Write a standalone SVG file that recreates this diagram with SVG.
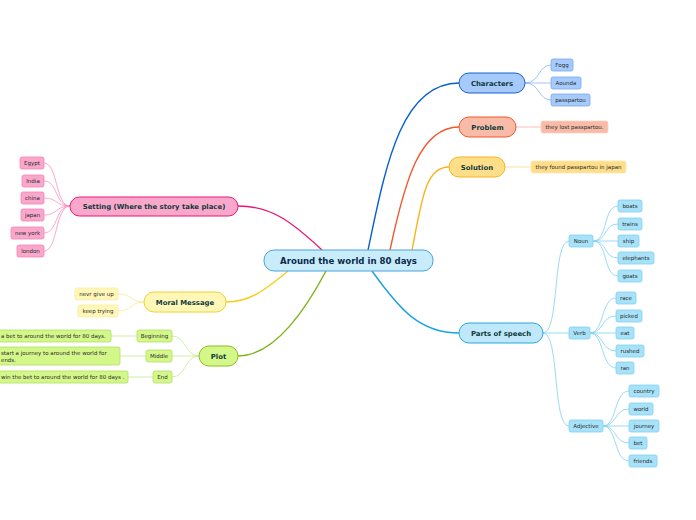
<svg xmlns="http://www.w3.org/2000/svg" width="696" height="520" viewBox="0 0 696 520">
<style>
text{font-family:"DejaVu Sans","Liberation Sans",sans-serif;}
.c{font-size:8.6px;font-weight:bold;fill:#0d2a4a;text-anchor:middle;}
.b{font-size:6.9px;font-weight:bold;fill:#0f3a3a;text-anchor:middle;}
.l{font-size:5.5px;fill:#2a2a2a;text-anchor:middle;}
.ll{font-size:5.5px;fill:#2a2a2a;}
.main{fill:none;stroke-width:1.4;}
.sub{fill:none;stroke-width:0.8;}
</style>
<rect width="696" height="520" fill="#fff"/>
<g id="connectors">
<path class="main" stroke="#0a5fd0" d="M368,250 C385,170 400,83 459,83"/>
<path class="main" stroke="#f0592c" d="M390,250 C405,180 420,127 459,127"/>
<path class="main" stroke="#f7b51a" d="M412,250 C422,200 425,167 449,167"/>
<path class="main" stroke="#1aa3e0" d="M372,271 C400,310 420,333 459,333"/>
<path class="main" stroke="#e8177a" d="M322,250 C290,220 270,206 238,206"/>
<path class="main" stroke="#f0d020" d="M288,271 C265,290 250,302 226,302"/>
<path class="main" stroke="#7ab317" d="M326,271 C300,320 270,356 238,356"/>
<g stroke="#8ab4f0" class="sub">
<path d="M525,83 C540,83 538,65 551,65"/><path d="M525,83 H551"/><path d="M525,83 C540,83 538,100 551,100"/>
</g>
<path class="sub" stroke="#f8b0a0" d="M516,127 H541"/>
<path class="sub" stroke="#ffd880" d="M505,167 H531"/>
<g stroke="#7fd0f2" class="sub">
<path d="M543,333 C560,333 552,241 569,241"/><path d="M543,333 H569"/><path d="M543,333 C560,333 552,426 569,426"/>
<path d="M593,241 C608,241 603,206 618,206"/><path d="M593,241 C608,241 603,224 618,224"/><path d="M593,241 H618"/><path d="M593,241 C608,241 603,258 618,258"/><path d="M593,241 C608,241 603,276 618,276"/>
<path d="M590,333 C604,333 601,298 616,298"/><path d="M590,333 C604,333 601,316 616,316"/><path d="M590,333 H616"/><path d="M590,333 C604,333 601,351 616,351"/><path d="M590,333 C604,333 601,368 616,368"/>
<path d="M603,426 C617,426 614,391 629,391"/><path d="M603,426 C617,426 614,409 629,409"/><path d="M603,426 H629"/><path d="M603,426 C617,426 614,443 629,443"/><path d="M603,426 C617,426 614,461 629,461"/>
</g>
<g stroke="#f890c0" class="sub">
<path d="M70,206 C55,206 58,163 44,163"/><path d="M70,206 C55,206 58,181 44,181"/><path d="M70,206 C55,206 58,198 44,198"/><path d="M70,206 C55,206 58,215 44,215"/><path d="M70,206 C55,206 58,233 44,233"/><path d="M70,206 C55,206 58,251 44,251"/>
</g>
<g stroke="#f8e890" class="sub">
<path d="M144,302 C130,302 132,294 118,294"/><path d="M144,302 C130,302 132,311 118,311"/>
</g>
<g stroke="#c8e890" class="sub">
<path d="M199,356 C185,356 186,336 172,336"/><path d="M199,356 H172"/><path d="M199,356 C185,356 186,377 172,377"/>
<path d="M137,336 H111"/><path d="M146,356 H120"/><path d="M153,377 H128"/>
</g>
</g>
<g id="center"><rect x="264" y="250" width="169" height="21" rx="10" fill="#c8ecfa" stroke="#4aa3df"/><text class="c" x="348.5" y="264">Around the world in 80 days</text></g>
<g id="characters"><rect x="459" y="73" width="66" height="20" rx="10" fill="#a6cafb" stroke="#1a5fd0"/><text class="b" x="492" y="85.5">Characters</text></g>
<g id="fogg"><rect x="551" y="59" width="22" height="12" rx="2" fill="#a6cafb" stroke="#7aa8f0" stroke-width="0.8"/><text class="l" x="562" y="67">Fogg</text></g>
<g id="aounda"><rect x="551" y="77" width="30" height="12" rx="2" fill="#a6cafb" stroke="#7aa8f0" stroke-width="0.8"/><text class="l" x="566" y="85">Aounda</text></g>
<g id="passpartou"><rect x="551" y="94" width="39" height="12" rx="2" fill="#a6cafb" stroke="#7aa8f0" stroke-width="0.8"/><text class="l" x="570.5" y="102">passpartou</text></g>
<g id="problem"><rect x="459" y="117" width="57" height="20" rx="10" fill="#f8bba8" stroke="#f0592c"/><text class="b" x="487.5" y="129.5">Problem</text></g>
<g id="lost"><rect x="541" y="121" width="67" height="12" rx="2" fill="#f8bba8" stroke="#fbd0c4" stroke-width="0.8"/><text class="l" x="574.5" y="129">they lost passpartou.</text></g>
<g id="solution"><rect x="449" y="157" width="56" height="20" rx="10" fill="#ffde8a" stroke="#f7b51a"/><text class="b" x="477" y="169.5">Solution</text></g>
<g id="found"><rect x="531" y="161" width="95" height="12" rx="2" fill="#ffde8a" stroke="#ffe8b0" stroke-width="0.8"/><text class="l" x="578.5" y="169">they found passpartou in japan</text></g>
<g id="parts"><rect x="459" y="323" width="84" height="20" rx="10" fill="#bfe9fa" stroke="#28a6e0"/><text class="b" x="501" y="335.5">Parts of speech</text></g>
<g id="noun"><rect x="569" y="235" width="24" height="12" rx="2" fill="#a8e2f8" stroke="#7fd0f2" stroke-width="0.8"/><text class="l" x="581" y="243">Noun</text></g>
<g id="boats"><rect x="618" y="200" width="24" height="12" rx="2" fill="#a8e2f8" stroke="#7fd0f2" stroke-width="0.8"/><text class="l" x="630" y="208">boats</text></g>
<g id="trains"><rect x="618" y="218" width="24" height="12" rx="2" fill="#a8e2f8" stroke="#7fd0f2" stroke-width="0.8"/><text class="l" x="630" y="226">trains</text></g>
<g id="ship"><rect x="618" y="235" width="21" height="12" rx="2" fill="#a8e2f8" stroke="#7fd0f2" stroke-width="0.8"/><text class="l" x="628.5" y="243">ship</text></g>
<g id="elephants"><rect x="618" y="252" width="36" height="12" rx="2" fill="#a8e2f8" stroke="#7fd0f2" stroke-width="0.8"/><text class="l" x="636" y="260">elephants</text></g>
<g id="goats"><rect x="618" y="270" width="24" height="12" rx="2" fill="#a8e2f8" stroke="#7fd0f2" stroke-width="0.8"/><text class="l" x="630" y="278">goats</text></g>
<g id="verb"><rect x="569" y="327" width="21" height="12" rx="2" fill="#a8e2f8" stroke="#7fd0f2" stroke-width="0.8"/><text class="l" x="579.5" y="335">Verb</text></g>
<g id="race"><rect x="616" y="292" width="20" height="12" rx="2" fill="#a8e2f8" stroke="#7fd0f2" stroke-width="0.8"/><text class="l" x="626" y="300">race</text></g>
<g id="picked"><rect x="616" y="310" width="26" height="12" rx="2" fill="#a8e2f8" stroke="#7fd0f2" stroke-width="0.8"/><text class="l" x="629" y="318">picked</text></g>
<g id="eat"><rect x="616" y="327" width="18" height="12" rx="2" fill="#a8e2f8" stroke="#7fd0f2" stroke-width="0.8"/><text class="l" x="625" y="335">eat</text></g>
<g id="rushed"><rect x="616" y="345" width="28" height="12" rx="2" fill="#a8e2f8" stroke="#7fd0f2" stroke-width="0.8"/><text class="l" x="630" y="353">rushed</text></g>
<g id="ran"><rect x="616" y="362" width="18" height="12" rx="2" fill="#a8e2f8" stroke="#7fd0f2" stroke-width="0.8"/><text class="l" x="625" y="370">ran</text></g>
<g id="adjective"><rect x="569" y="420" width="34" height="12" rx="2" fill="#a8e2f8" stroke="#7fd0f2" stroke-width="0.8"/><text class="l" x="586" y="428">Adjective</text></g>
<g id="country"><rect x="629" y="385" width="30" height="12" rx="2" fill="#a8e2f8" stroke="#7fd0f2" stroke-width="0.8"/><text class="l" x="644" y="393">country</text></g>
<g id="world"><rect x="629" y="403" width="24" height="12" rx="2" fill="#a8e2f8" stroke="#7fd0f2" stroke-width="0.8"/><text class="l" x="641" y="411">world</text></g>
<g id="journey"><rect x="629" y="420" width="30" height="12" rx="2" fill="#a8e2f8" stroke="#7fd0f2" stroke-width="0.8"/><text class="l" x="644" y="428">journey</text></g>
<g id="bet"><rect x="629" y="437" width="18" height="12" rx="2" fill="#a8e2f8" stroke="#7fd0f2" stroke-width="0.8"/><text class="l" x="638" y="445">bet</text></g>
<g id="friends"><rect x="629" y="455" width="28" height="12" rx="2" fill="#a8e2f8" stroke="#7fd0f2" stroke-width="0.8"/><text class="l" x="643" y="463">friends</text></g>
<g id="setting"><rect x="70" y="197" width="168" height="19" rx="9.5" fill="#f9a8cc" stroke="#e8177a"/><text class="b" x="154" y="209">Setting (Where the story take place)</text></g>
<g id="egypt"><rect x="20" y="157" width="24" height="12" rx="2" fill="#f9a8cc" stroke="#f880b8" stroke-width="0.8"/><text class="l" x="32" y="165">Egypt</text></g>
<g id="india"><rect x="22" y="175" width="22" height="12" rx="2" fill="#f9a8cc" stroke="#f880b8" stroke-width="0.8"/><text class="l" x="33" y="183">India</text></g>
<g id="china"><rect x="21" y="192" width="23" height="12" rx="2" fill="#f9a8cc" stroke="#f880b8" stroke-width="0.8"/><text class="l" x="32.5" y="200">china</text></g>
<g id="japan"><rect x="21" y="209" width="23" height="12" rx="2" fill="#f9a8cc" stroke="#f880b8" stroke-width="0.8"/><text class="l" x="32.5" y="217">japan</text></g>
<g id="newyork"><rect x="11" y="227" width="33" height="12" rx="2" fill="#f9a8cc" stroke="#f880b8" stroke-width="0.8"/><text class="l" x="27.5" y="235">new york</text></g>
<g id="london"><rect x="17" y="245" width="27" height="12" rx="2" fill="#f9a8cc" stroke="#f880b8" stroke-width="0.8"/><text class="l" x="30.5" y="253">london</text></g>
<g id="moral"><rect x="144" y="292" width="82" height="20" rx="10" fill="#fff7b8" stroke="#f0d22c"/><text class="b" x="185" y="304.5">Moral Message</text></g>
<g id="nevr"><rect x="75" y="288" width="43" height="12" rx="2" fill="#fff7b8" stroke="#fbeea0" stroke-width="0.8"/><text class="l" x="96.5" y="296">nevr give up</text></g>
<g id="keep"><rect x="78" y="305" width="40" height="12" rx="2" fill="#fff7b8" stroke="#fbeea0" stroke-width="0.8"/><text class="l" x="98" y="313">keep trying</text></g>
<g id="plot"><rect x="199" y="346" width="39" height="20" rx="10" fill="#d4f78a" stroke="#8bc21c"/><text class="b" x="218.5" y="358.5">Plot</text></g>
<g id="beginning"><rect x="137" y="330" width="35" height="12" rx="2" fill="#d4f78a" stroke="#b0e060" stroke-width="0.8"/><text class="l" x="154.5" y="338">Beginning</text></g>
<g id="middle"><rect x="146" y="350" width="26" height="12" rx="2" fill="#d4f78a" stroke="#b0e060" stroke-width="0.8"/><text class="l" x="159" y="358">Middle</text></g>
<g id="end"><rect x="153" y="371" width="19" height="12" rx="2" fill="#d4f78a" stroke="#b0e060" stroke-width="0.8"/><text class="l" x="162.5" y="379">End</text></g>
<g id="begleaf"><rect x="-10" y="330" width="121" height="12" rx="2" fill="#d4f78a" stroke="#b0e060" stroke-width="0.8"/><text class="ll" x="1" y="338">a bet to around the world for 80 days.</text></g>
<g id="midleaf"><rect x="-10" y="347" width="130" height="18" rx="2" fill="#d4f78a" stroke="#b0e060" stroke-width="0.8"/><text class="ll" x="1" y="355">start a journey to around the world for</text><text class="ll" x="1" y="362">ends.</text></g>
<g id="endleaf"><rect x="-10" y="371" width="138" height="12" rx="2" fill="#d4f78a" stroke="#b0e060" stroke-width="0.8"/><text class="ll" x="1" y="379">win the bet to around the world for 80 days .</text></g>
</svg>
